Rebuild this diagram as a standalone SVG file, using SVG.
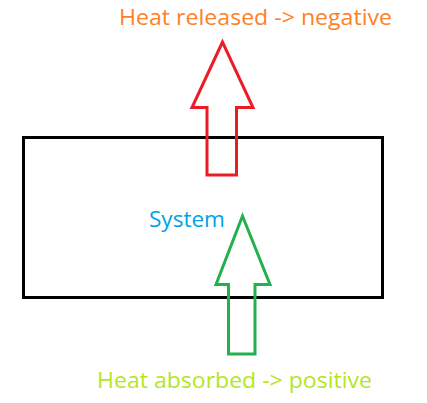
<svg xmlns="http://www.w3.org/2000/svg" width="427" height="403" viewBox="0 0 427 403">
<style>
text{font-family:"Open Sans","Noto Sans","Liberation Sans",sans-serif;font-size:21px}
.arrow{fill:none;stroke-width:3;stroke-linejoin:miter}
</style>
<rect width="427" height="403" fill="#ffffff"/>
<g id="system">
<rect x="23.5" y="137.5" width="359" height="160" fill="none" stroke="#000000" stroke-width="3"/>
<text x="149" y="227" fill="#00a2e8" textLength="76" lengthAdjust="spacingAndGlyphs">System</text>
</g>
<g id="connectors">
<polygon class="arrow" stroke="#ed1c24" points="222.5,42 192,107.5 207,107.5 207,175 236.5,175 236.5,107.5 253,107.5"/>
<polygon class="arrow" stroke="#22b14c" points="242.5,216 216,284.5 228.5,284.5 228.5,354 255,354 255,284.5 270,284.5"/>
</g>
<g id="label-released">
<text x="119" y="25" fill="#ff7f27" textLength="273" lengthAdjust="spacingAndGlyphs">Heat released -&gt; negative</text>
</g>
<g id="label-absorbed">
<text x="97" y="388" fill="#b5e61d" textLength="275" lengthAdjust="spacingAndGlyphs">Heat absorbed -&gt; positive</text>
</g>
</svg>
